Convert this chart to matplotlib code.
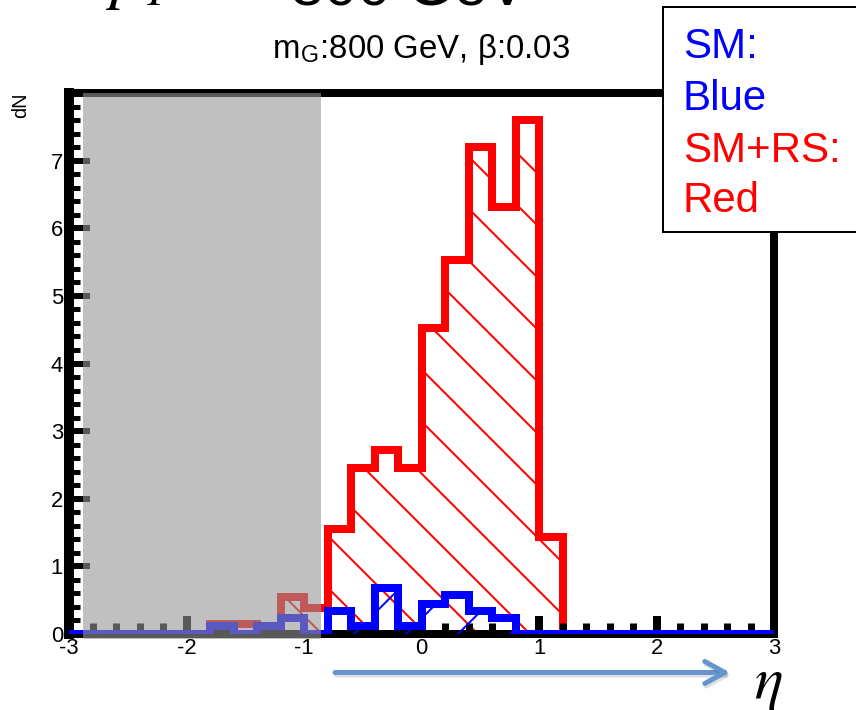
import numpy as np
import matplotlib
matplotlib.use("Agg")
import matplotlib.pyplot as plt
import matplotlib.patheffects as pe
from matplotlib.patches import Rectangle, FancyArrowPatch
from matplotlib.ticker import MultipleLocator

DPI = 312
W, H = 856, 710
PT = 72 / DPI  # one pixel, in points

plt.rcParams['font.family'] = ['Liberation Sans', 'DejaVu Sans']
plt.rcParams['mathtext.fontset'] = 'stix'
plt.rcParams['axes.unicode_minus'] = False
plt.rcParams['hatch.linewidth'] = 2 * PT

# 30 bins of 0.2 in eta, from -3 to 3
edges = np.linspace(-3, 3, 31)

# SM (blue)
sm = [0, 0, 0, 0, 0, 0,
      0.12, 0, 0.12, 0.23, 0,
      0.34, 0.12, 0.68, 0.12, 0.44, 0.57, 0.34, 0.23,
      0, 0, 0, 0, 0, 0, 0, 0, 0, 0, 0]

# SM+RS (red)
sm_rs = [0, 0, 0, 0, 0, 0,
         0.15, 0.15, 0.12, 0.54, 0.39,
         1.55, 2.45, 2.72, 2.45, 4.52, 5.53, 7.20, 6.32, 7.60, 1.43,
         0, 0, 0, 0, 0, 0, 0, 0, 0]

# region shaded grey
cut_lo, cut_hi = -2.88, -0.855


def fy(ypx):
    return 1 - ypx / H


fig = plt.figure(figsize=(W / DPI, H / DPI), dpi=DPI)
ax = fig.add_axes([69 / W, fy(634), (774 - 69) / W, (634 - 93) / H])
ax.set_axisbelow(False)

# red histogram: hatch then outline
ax.stairs(sm_rs, edges, fill=True, facecolor='none', edgecolor='red',
          hatch='\\\\', linewidth=0, zorder=1.9)
r = ax.stairs(sm_rs, edges, color='red', linewidth=8 * PT, zorder=2)
r.set_joinstyle('miter')

# blue histogram
ax.stairs(sm, edges, fill=True, facecolor='none', edgecolor='blue',
          hatch='//', linewidth=0, zorder=2.9)
b = ax.stairs(sm, edges, color='blue', linewidth=8 * PT, zorder=3)
b.set_joinstyle('miter')
b.set_capstyle('projecting')

ax.axvspan(cut_lo, cut_hi, ymin=-0.07 / 8, ymax=1, facecolor=(150 / 255,) * 3,
           alpha=0.6, linewidth=0, zorder=4, clip_on=False)

ax.set_xlim(-3, 3)
ax.set_ylim(0, 8)
ax.xaxis.set_major_locator(MultipleLocator(1))
ax.xaxis.set_minor_locator(MultipleLocator(0.2))
ax.yaxis.set_major_locator(MultipleLocator(1))
ax.yaxis.set_minor_locator(MultipleLocator(0.2))
ax.set_yticks(range(0, 8))

ax.tick_params(axis='x', which='major', direction='in', length=18 * PT,
               width=8 * PT, labelsize=22 * PT, pad=4 * PT, top=False)
ax.tick_params(axis='x', which='minor', direction='in', length=11 * PT,
               width=7 * PT, top=False)
ax.tick_params(axis='y', which='major', direction='in', length=21 * PT,
               width=6 * PT, labelsize=22 * PT, pad=6 * PT, right=False)
ax.tick_params(axis='y', which='minor', direction='in', length=11 * PT,
               width=5 * PT, right=False)

for side, w in [('left', 10), ('top', 8), ('right', 8), ('bottom', 8)]:
    ax.spines[side].set_linewidth(w * PT)
    ax.spines[side].set_color('black')

fig.text(21 / W, fy(93), 'dN', rotation=90, ha='center', va='top',
         fontsize=20 * PT)

# title
fig.text(421 / W, fy(58), r'm$_\mathregular{G}$:800 GeV, β:0.03',
         ha='center', va='baseline', fontsize=33 * PT)

# big heading, cut off by the top edge
fig.text(106 / W, fy(-3), r'$p_T$', fontsize=65 * PT, va='baseline')
fig.text(527 / W, fy(6), '= 800 GeV', fontsize=60 * PT, ha='right',
         va='baseline')

# legend box
box = Rectangle((663 / W, fy(232)), (W - 663 + 20) / W, (232 - 7) / H,
                transform=fig.transFigure, facecolor='white',
                edgecolor='black', linewidth=2 * PT, zorder=10, clip_on=False)
fig.add_artist(box)
for txt, col, ypx in [('SM:', 'blue', 58), ('Blue', 'blue', 110),
                      ('SM+RS:', 'red', 162), ('Red', 'red', 212)]:
    fig.text(683 / W, fy(ypx), txt, color=col, fontsize=42 * PT,
             va='baseline', zorder=11)

# eta arrow
arr = FancyArrowPatch((335 / W, fy(672.5)), (730 / W, fy(672.5)),
                      transform=fig.transFigure,
                      arrowstyle=f'->,head_length={20 * PT},head_width={11 * PT}',
                      color='#6495cd', linewidth=5 * PT, shrinkA=0, shrinkB=0,
                      zorder=10)
arr.set_path_effects([pe.SimpleLineShadow(offset=(0.3, -0.6), shadow_color='k',
                                          alpha=0.12), pe.Normal()])
fig.add_artist(arr)
fig.text(754 / W, fy(698), r'$\eta$', fontsize=60 * PT, va='baseline')

fig.savefig('out.png', dpi=DPI)
